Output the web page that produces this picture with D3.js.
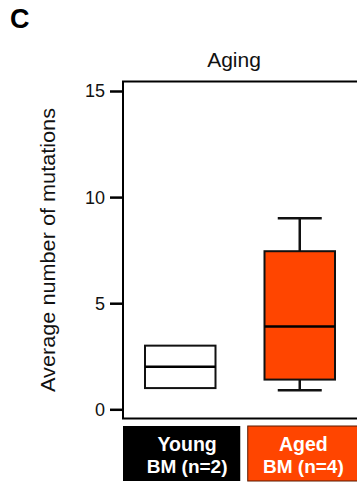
<!DOCTYPE html>
<html>
<head>
<meta charset="utf-8">
<script src="https://cdn.jsdelivr.net/npm/d3@7/dist/d3.min.js"></script>
<style>
  html, body { margin: 0; padding: 0; background: #fff; }
  svg { display: block; }
  text { font-family: "Liberation Sans", Arial, Helvetica, sans-serif; }
</style>
</head>
<body>
<svg id="chart" width="357" height="482"></svg>
<script>
// ---- data ----
const categories = ["Young BM (n=2)", "Aged BM (n=4)"];
const labelLine1 = ["Young", "Aged"];
const labelLine2 = ["BM (n=2)", "BM (n=4)"];
const whiskerLow  = [1, 0.9];
const quartile1   = [1, 1.4];
const medians     = [2, 3.9];
const quartile3   = [3, 7.45];
const whiskerHigh = [3, 9];
const yTicks = [0, 5, 10, 15];
const title = "Aging";
const yLabel = "Average number of mutations";
const panelLetter = "C";

// ---- styles ----
const boxFills = ["#ffffff", "#ff4500"];
const labelFills = ["#000000", "#ff4500"];

const svg = d3.select("#chart");

const frame = { left: 123, top: 81.5, bottom: 418.5, right: 360 };

const y = d3.scaleLinear().domain([0, 15]).range([409.3, 91]);
const x = d3.scaleBand().domain(categories).range([120.5, 359.5]).paddingInner(0).paddingOuter(0);
const boxW = 70.5, capW = 44;

// frame (left, top, bottom)
svg.append("path")
  .attr("d", `M${frame.right},${frame.top}H${frame.left}V${frame.bottom}H${frame.right}`)
  .attr("fill", "none").attr("stroke", "#000").attr("stroke-width", 2);

// y axis
const axis = d3.axisLeft(y).tickValues(yTicks).tickSize(13).tickPadding(5).tickFormat(d3.format("d"));
const gAxis = svg.append("g").attr("transform", `translate(${frame.left},0)`).call(axis);
gAxis.select(".domain").remove();
gAxis.selectAll(".tick line").attr("stroke", "#000").attr("stroke-width", 2.5);
gAxis.selectAll(".tick text")
  .attr("font-family", "'Liberation Sans', Arial, sans-serif")
  .attr("font-size", 18).attr("fill", "#111").attr("dy", "0.33em");

// boxes
const groups = svg.append("g").selectAll("g").data(categories).join("g");
groups.each(function (c, i) {
  const g = d3.select(this);
  const cx = x(c) + x.bandwidth() / 2;
  if (whiskerHigh[i] > quartile3[i]) {
    g.append("line").attr("x1", cx).attr("x2", cx).attr("y1", y(quartile3[i])).attr("y2", y(whiskerHigh[i]))
      .attr("stroke", "#111").attr("stroke-width", 2.5);
    g.append("line").attr("x1", cx - capW / 2).attr("x2", cx + capW / 2).attr("y1", y(whiskerHigh[i])).attr("y2", y(whiskerHigh[i]))
      .attr("stroke", "#111").attr("stroke-width", 2.5);
  }
  if (whiskerLow[i] < quartile1[i]) {
    g.append("line").attr("x1", cx).attr("x2", cx).attr("y1", y(quartile1[i])).attr("y2", y(whiskerLow[i]))
      .attr("stroke", "#111").attr("stroke-width", 2.5);
    g.append("line").attr("x1", cx - capW / 2).attr("x2", cx + capW / 2).attr("y1", y(whiskerLow[i])).attr("y2", y(whiskerLow[i]))
      .attr("stroke", "#111").attr("stroke-width", 2.5);
  }
  g.append("rect")
    .attr("x", cx - boxW / 2).attr("width", boxW)
    .attr("y", y(quartile3[i])).attr("height", y(quartile1[i]) - y(quartile3[i]))
    .attr("fill", boxFills[i]).attr("stroke", "#111").attr("stroke-width", 2);
  g.append("line").attr("x1", cx - boxW / 2).attr("x2", cx + boxW / 2)
    .attr("y1", y(medians[i])).attr("y2", y(medians[i]))
    .attr("stroke", "#000").attr("stroke-width", 2.5);
});

// category label strip
const xl = d3.scaleBand().domain(categories).range([123, 365]).paddingInner(0.06).paddingOuter(0);
const textDx = [5.5, -3];
const labels = svg.append("g").selectAll("g").data(categories).join("g");
labels.append("rect")
  .attr("x", c => xl(c)).attr("width", xl.bandwidth())
  .attr("y", 426).attr("height", 55)
  .attr("fill", (c, i) => labelFills[i])
  .attr("stroke", (c, i) => i === 0 ? "none" : "#5a1a00").attr("stroke-width", 1);
labels.append("text")
  .attr("x", (c, i) => xl(c) + xl.bandwidth() / 2 + textDx[i]).attr("y", 450.5)
  .attr("text-anchor", "middle").attr("font-weight", "bold").attr("font-size", 19.5).attr("fill", "#fff")
  .text((c, i) => labelLine1[i]);
labels.append("text")
  .attr("x", (c, i) => xl(c) + xl.bandwidth() / 2 + textDx[i]).attr("y", 473)
  .attr("text-anchor", "middle").attr("font-weight", "bold").attr("font-size", 19).attr("fill", "#fff")
  .text((c, i) => labelLine2[i]);

// title
svg.append("text").attr("x", 234).attr("y", 67).attr("text-anchor", "middle")
  .attr("font-size", 21).attr("fill", "#111").text(title);

// panel letter
svg.append("text").attr("x", 10).attr("y", 28).attr("font-weight", "bold")
  .attr("font-size", 27).attr("fill", "#000").text(panelLetter);

// y label
svg.append("text").attr("transform", "translate(55,250) rotate(-90)")
  .attr("text-anchor", "middle").attr("font-size", 19.5).attr("fill", "#111")
  .attr("textLength", 284).attr("lengthAdjust", "spacingAndGlyphs")
  .text(yLabel);
</script>
</body>
</html>
